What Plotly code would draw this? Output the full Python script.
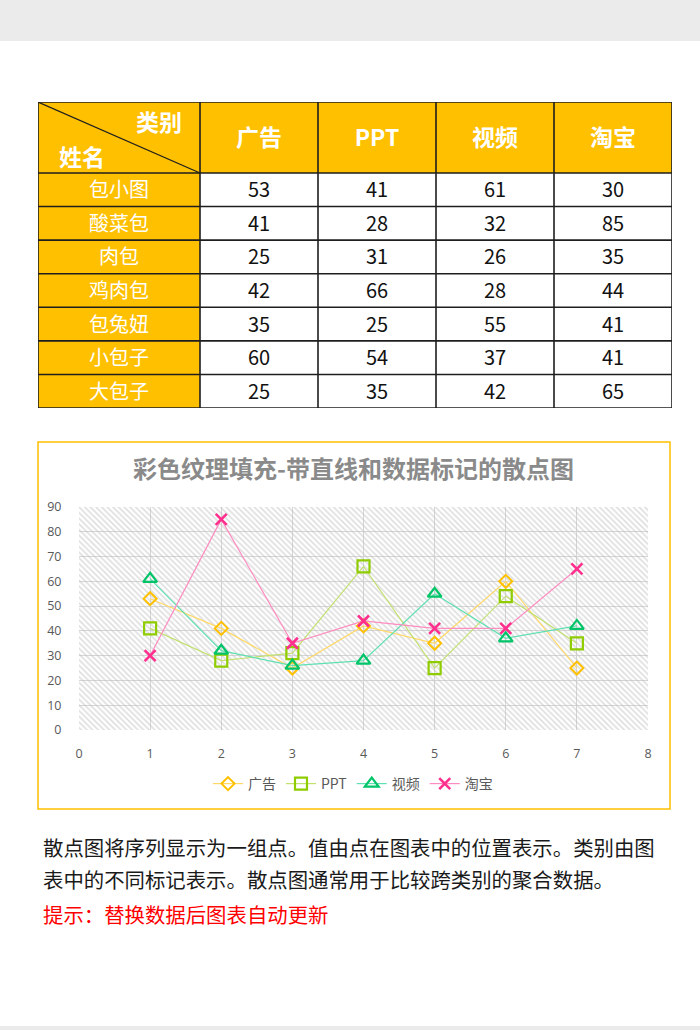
import plotly.graph_objects as go

W, H = 700, 1030

def fx(p):
    return p / W

def fy(p):
    return 1 - p / H

# ---------------- data ----------------
names = ["包小图", "酸菜包", "肉包", "鸡肉包", "包兔妞", "小包子", "大包子"]
categories = ["广告", "PPT", "视频", "淘宝"]
ad = [53, 41, 25, 42, 35, 60, 25]
ppt = [41, 28, 31, 66, 25, 54, 35]
video = [61, 32, 26, 28, 55, 37, 42]
taobao = [30, 85, 35, 44, 41, 41, 65]
series_values = [ad, ppt, video, taobao]
x_points = [1, 2, 3, 4, 5, 6, 7]
y_ticks = [0, 10, 20, 30, 40, 50, 60, 70, 80, 90]
x_ticks = [0, 1, 2, 3, 4, 5, 6, 7, 8]

title_text = "彩色纹理填充-带直线和数据标记的散点图"
para_lines = ["散点图将序列显示为一组点。值由点在图表中的位置表示。类别由图",
              "表中的不同标记表示。散点图通常用于比较跨类别的聚合数据。"]
tip_text = "提示：替换数据后图表自动更新"

# ---------------- styles ----------------
GOLD = "#FFC000"
CJK = "Noto Sans CJK SC"
marker_colors = ["#FFC000", "#8FCC00", "#00C468", "#FF2F8E"]
line_colors = ["#FFD866", "#C2E070", "#5FE0B0", "#FF8CC0"]
symbols = ["diamond-open", "square-open", "triangle-up-open", "x-thin-open"]
msizes = [10, 12, 12, 11]
mlw = [2, 2.2, 2.2, 2.6]
TEXT_DY = 2.5  # small downward nudge of cell text inside the table

fig = go.Figure()

# ---------------- table (on its own axes) ----------------
col_w = [162, 118, 118, 118, 118]
row_h = [71] + [33.57] * len(names)
x_edges = [0]
for w in col_w:
    x_edges.append(x_edges[-1] + w)
y_edges = [0]
for h in row_h:
    y_edges.append(y_edges[-1] + h)
x_cent = [(x_edges[i] + x_edges[i + 1]) / 2 for i in range(len(col_w))]
y_cent = [(y_edges[i] + y_edges[i + 1]) / 2 + TEXT_DY for i in range(len(row_h))]

shapes = []
shapes.append(dict(type="rect", xref="x2", yref="y2", x0=0, x1=x_edges[-1],
                   y0=0, y1=y_edges[1], fillcolor=GOLD, line=dict(width=0), layer="below"))
shapes.append(dict(type="rect", xref="x2", yref="y2", x0=0, x1=x_edges[1],
                   y0=y_edges[1], y1=y_edges[-1], fillcolor=GOLD, line=dict(width=0),
                   layer="below"))

fig.add_trace(go.Scatter(
    x=x_cent[1:], y=[y_cent[0]] * len(categories), xaxis="x2", yaxis="y2",
    mode="text", text=["<b>%s</b>" % c for c in categories],
    textfont=dict(family=CJK, size=23, color="white"),
    hoverinfo="skip", showlegend=False))
fig.add_trace(go.Scatter(
    x=[x_cent[0]] * len(names), y=y_cent[1:], xaxis="x2", yaxis="y2",
    mode="text", text=names,
    textfont=dict(family=CJK, size=20, color="white"),
    hoverinfo="skip", showlegend=False))
cx, cy, ct = [], [], []
for ci, vals in enumerate(series_values):
    for ri, v in enumerate(vals):
        cx.append(x_cent[ci + 1])
        cy.append(y_cent[ri + 1])
        ct.append(str(v))
fig.add_trace(go.Scatter(
    x=cx, y=cy, xaxis="x2", yaxis="y2", mode="text", text=ct,
    textfont=dict(family=CJK, size=20, color="#111111"),
    hoverinfo="skip", showlegend=False))

for xe in x_edges:
    shapes.append(dict(type="line", xref="x2", yref="y2", x0=xe, x1=xe,
                       y0=0, y1=y_edges[-1], line=dict(color="#1e1e1e", width=1.6)))
for ye in y_edges:
    shapes.append(dict(type="line", xref="x2", yref="y2", x0=0, x1=x_edges[-1],
                       y0=ye, y1=ye, line=dict(color="#1e1e1e", width=1.6)))
shapes.append(dict(type="line", xref="x2", yref="y2", x0=0, y0=0,
                   x1=x_edges[1], y1=y_edges[1], line=dict(color="#1e1e1e", width=1.2)))

# ---------------- chart ----------------
X0, X1 = x_ticks[0], x_ticks[-1]
Y0, Y1 = y_ticks[0], y_ticks[-1]
fig.add_trace(go.Scatter(
    x=[X0, X1, X1, X0, X0], y=[Y0, Y0, Y1, Y1, Y0], mode="lines",
    fill="toself", line=dict(width=0), fillcolor="rgba(0,0,0,0)",
    fillpattern=dict(shape="\\", fgcolor="#bdbdbd", bgcolor="rgba(255,255,255,0)",
                     size=4, solidity=0.4),
    hoverinfo="skip", showlegend=False))

for i, name in enumerate(categories):
    fig.add_trace(go.Scatter(
        x=x_points, y=series_values[i], name=name, mode="lines+markers",
        line=dict(color=line_colors[i], width=1.2),
        marker=dict(symbol=symbols[i], size=msizes[i], color=marker_colors[i],
                    line=dict(width=mlw[i], color=marker_colors[i]))))

shapes.append(dict(type="rect", xref="paper", yref="paper",
                   x0=fx(38), x1=fx(670), y0=fy(442), y1=fy(809),
                   line=dict(color=GOLD, width=1.5)))
shapes.append(dict(type="rect", xref="paper", yref="paper", x0=0, x1=1,
                   y0=fy(41), y1=1, fillcolor="#EBEBEB", line=dict(width=0), layer="below"))
shapes.append(dict(type="rect", xref="paper", yref="paper", x0=0, x1=1,
                   y0=0, y1=fy(1026), fillcolor="#EBEBEB", line=dict(width=0), layer="below"))

annotations = [
    dict(text="<b>类别</b>", xref="x2", yref="y2", x=121, y=19, showarrow=False,
         font=dict(family=CJK, size=23, color="white")),
    dict(text="<b>姓名</b>", xref="x2", yref="y2", x=44, y=54, showarrow=False,
         font=dict(family=CJK, size=23, color="white")),
    dict(text="<b>%s</b>" % title_text, xref="paper", yref="paper", x=fx(353), y=fy(468),
         showarrow=False, xanchor="center", yanchor="middle",
         font=dict(family=CJK, size=24, color="#8a8a8a")),
    dict(text=para_lines[0], xref="paper", yref="paper", x=fx(41), y=fy(847),
         showarrow=False, xanchor="left", yanchor="middle",
         font=dict(family=CJK, size=20.4, color="#1a1a1a")),
    dict(text=para_lines[1], xref="paper", yref="paper", x=fx(41), y=fy(879),
         showarrow=False, xanchor="left", yanchor="middle",
         font=dict(family=CJK, size=20.4, color="#1a1a1a")),
    dict(text=tip_text, xref="paper", yref="paper", x=fx(41), y=fy(914),
         showarrow=False, xanchor="left", yanchor="middle",
         font=dict(family=CJK, size=20.4, color="#FF0000")),
]

fig.update_layout(
    width=W, height=H, margin=dict(l=0, r=0, t=0, b=0, autoexpand=False),
    paper_bgcolor="white", plot_bgcolor="rgba(0,0,0,0)",
    shapes=shapes, annotations=annotations,
    xaxis=dict(domain=[fx(79), fx(648)], range=[X0, X1], tickvals=x_ticks,
               showgrid=True, gridcolor="#d6d6d6", gridwidth=1, zeroline=False,
               showline=False, ticks="outside", ticklen=12, tickcolor="rgba(0,0,0,0)",
               automargin=False,
               tickfont=dict(family="Open Sans", size=12.5, color="#595959"), fixedrange=True),
    yaxis=dict(domain=[fy(730), fy(507)], range=[Y0, Y1], tickvals=y_ticks,
               showgrid=True, gridcolor="#d6d6d6", gridwidth=1, zeroline=False,
               showline=False, ticks="outside", ticklen=14, tickcolor="rgba(0,0,0,0)",
               automargin=False,
               tickfont=dict(family="Open Sans", size=12.5, color="#595959"), fixedrange=True),
    xaxis2=dict(domain=[fx(38), fx(672)], range=[0, x_edges[-1]], visible=False,
                fixedrange=True, anchor="y2", automargin=False),
    yaxis2=dict(domain=[fy(408), fy(102)], range=[y_edges[-1], 0], visible=False,
                fixedrange=True, anchor="x2", automargin=False),
    legend=dict(orientation="h", x=fx(353), xanchor="center", y=fy(784), yanchor="middle",
                font=dict(family=CJK, size=14, color="#595959"), bgcolor="rgba(0,0,0,0)",
                itemwidth=30),
    showlegend=True,
)

fig.write_html("out.html")
